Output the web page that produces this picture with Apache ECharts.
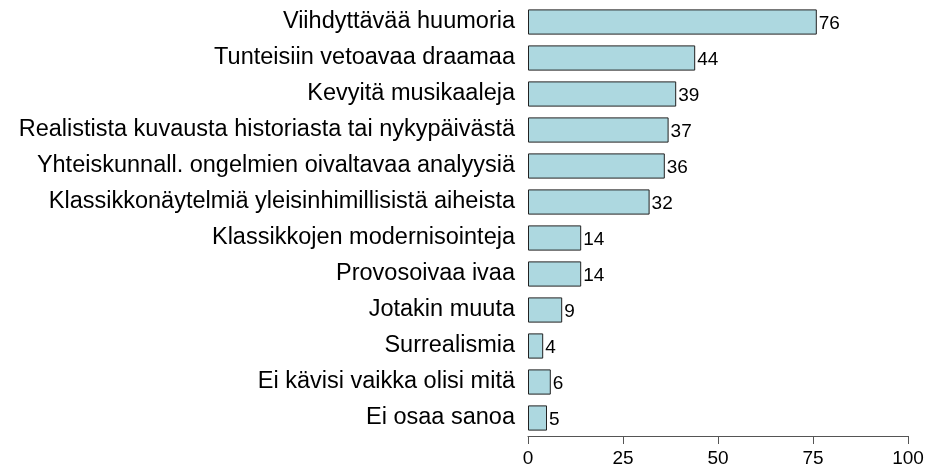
<!DOCTYPE html>
<html>
<head>
<meta charset="utf-8">
<script src="https://cdn.jsdelivr.net/npm/echarts@6/dist/echarts.min.js"></script>
<style>
  html, body { margin: 0; padding: 0; background: #fff; }
  #main { width: 929px; height: 471px; }
</style>
</head>
<body>
<div id="main"></div>
<script>
// kategoriat ylhäältä alas
var categories = [
  'Viihdyttävää huumoria',
  'Tunteisiin vetoavaa draamaa',
  'Kevyitä musikaaleja',
  'Realistista kuvausta historiasta tai nykypäivästä',
  'Yhteiskunnall. ongelmien oivaltavaa analyysiä',
  'Klassikkonäytelmiä yleisinhimillisistä aiheista',
  'Klassikkojen modernisointeja',
  'Provosoivaa ivaa',
  'Jotakin muuta',
  'Surrealismia',
  'Ei kävisi vaikka olisi mitä',
  'Ei osaa sanoa'
];
var values = [76, 44, 39, 37, 36, 32, 14, 14, 9, 4, 6, 5];
var xTicks = [0, 25, 50, 75, 100];

var myChart = echarts.init(document.getElementById('main'));
myChart.setOption({
  animation: false,
  textStyle: { fontFamily: 'Liberation Sans, Arial, sans-serif' },
  grid: { left: 528, right: 21, top: 4, bottom: 35, containLabel: false },
  xAxis: {
    type: 'value',
    min: xTicks[0],
    max: xTicks[xTicks.length - 1],
    interval: 25,
    axisLine: { show: true, lineStyle: { color: '#555', width: 1 } },
    axisTick: { show: true, length: 8, inside: false, lineStyle: { color: '#555' } },
    splitLine: { show: false },
    axisLabel: { fontSize: 19, color: '#000', margin: 13 }
  },
  yAxis: {
    type: 'category',
    data: categories,
    inverse: true,
    axisLine: { show: false },
    axisTick: { show: false },
    axisLabel: { fontSize: 23.5, color: '#000', margin: 13 }
  },
  series: [{
    type: 'bar',
    data: values,
    barCategoryGap: '30%',
    itemStyle: { color: '#add8e0', borderColor: '#222', borderWidth: 1 },
    label: { show: true, position: 'right', distance: 2, offset: [0, 2], fontSize: 19, color: '#000' }
  }]
});
</script>
</body>
</html>
